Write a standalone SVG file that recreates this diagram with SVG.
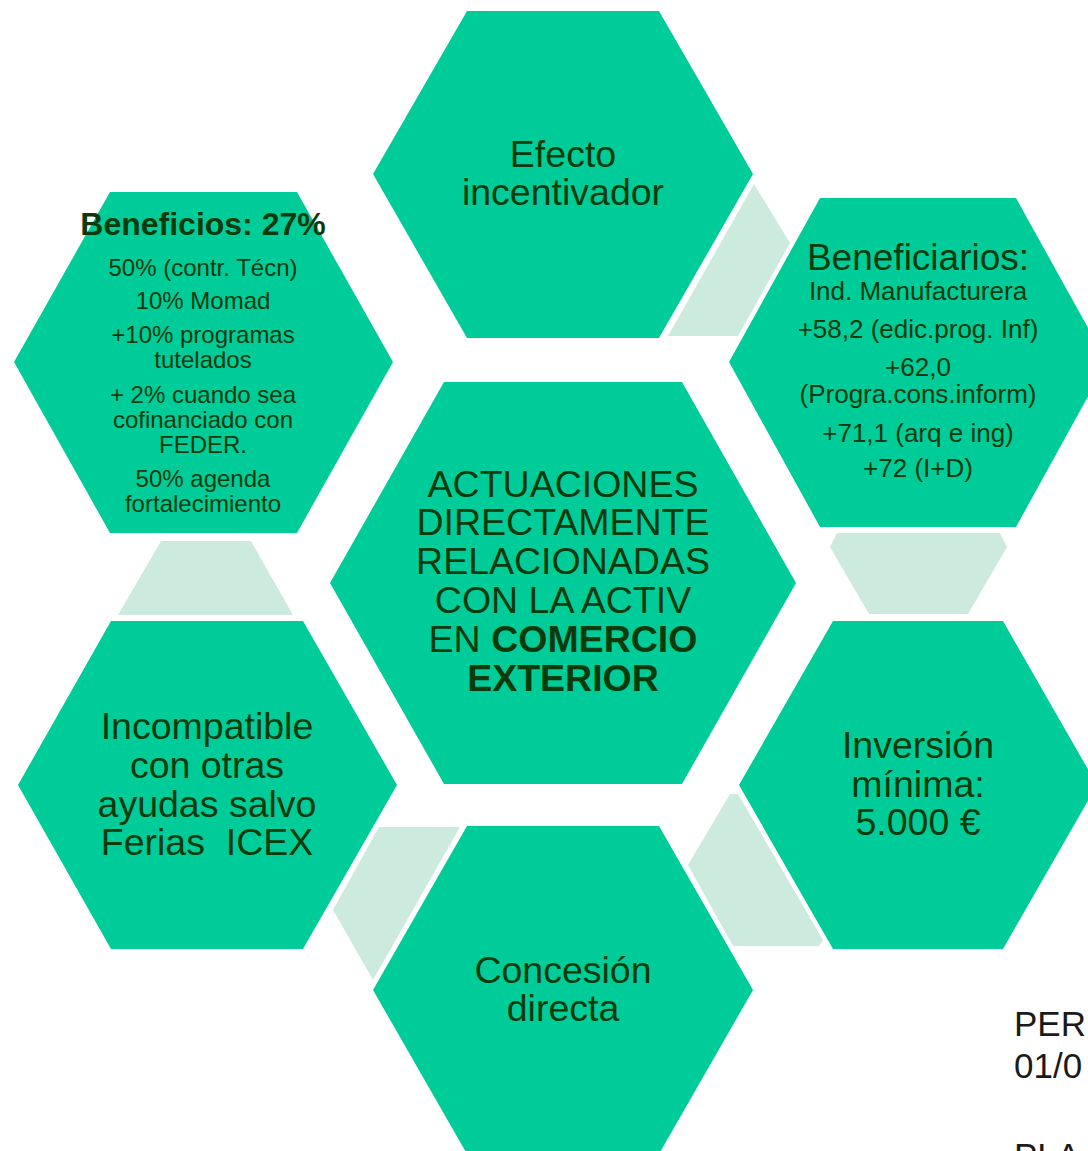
<svg xmlns="http://www.w3.org/2000/svg" width="1088" height="1151" viewBox="0 0 1088 1151">
<style>
.hex{fill:#00CC99}
.lnk{fill:#CCEBDE}
text{font-family:"Liberation Sans",Arial,sans-serif;fill:#0B3B0B;text-anchor:middle}
.big{font-size:37.5px}
.mid{font-size:24px}
.mid2{font-size:26px}
.b{font-weight:bold}
.side{fill:#1a1a1a;text-anchor:start;font-size:35px}
</style>
<rect width="1088" height="1151" fill="#ffffff"/>
<g id="connectors">
<polygon class="lnk" points="754,184 790,243 738,336 668,336"/>
<polygon class="lnk" points="837,533 1000,533 1007,547 968,614 869,614 830,547"/>
<polygon class="lnk" points="730,794 738,794 823,940 819,946 733,946 688,865"/>
<polygon class="lnk" points="379,827 460,827 373,980 333,910"/>
<polygon class="lnk" points="161,541 251,541 293,615 118,615"/>
</g>
<g id="node-efecto">
<polygon class="hex" points="467,11 659,11 753,174 659,338 467,338 373,174"/>
<text class="big" x="563" y="167">Efecto</text>
<text class="big" x="563" y="205">incentivador</text>
</g>
<g id="node-beneficios">
<polygon class="hex" points="110,192 297,192 393,362 297,533 110,533 14,362"/>
<text class="b" x="203" y="235" font-size="32px">Beneficios: 27%</text>
<text class="mid" x="203" y="276">50% (contr. Técn)</text>
<text class="mid" x="203" y="309">10% Momad</text>
<text class="mid" x="203" y="343">+10% programas</text>
<text class="mid" x="203" y="368">tutelados</text>
<text class="mid" x="203" y="403">+ 2% cuando sea</text>
<text class="mid" x="203" y="428">cofinanciado con</text>
<text class="mid" x="203" y="453">FEDER.</text>
<text class="mid" x="203" y="487">50% agenda</text>
<text class="mid" x="203" y="512">fortalecimiento</text>
</g>
<g id="node-beneficiarios">
<polygon class="hex" points="820,198 1016,198 1107,362 1016,527 820,527 729,362"/>
<text x="918" y="270" font-size="37px">Beneficiarios:</text>
<text class="mid2" x="918" y="300">Ind. Manufacturera</text>
<text class="mid2" x="918" y="338">+58,2 (edic.prog. Inf)</text>
<text class="mid2" x="918" y="376">+62,0</text>
<text class="mid2" x="918" y="403">(Progra.cons.inform)</text>
<text class="mid2" x="918" y="442">+71,1 (arq e ing)</text>
<text class="mid2" x="918" y="477">+72 (I+D)</text>
</g>
<g id="node-center">
<polygon class="hex" points="444,382 682,382 796,583 682,784 444,784 330,583"/>
<text class="big" x="563" y="497">ACTUACIONES</text>
<text class="big" x="563" y="535">DIRECTAMENTE</text>
<text class="big" x="563" y="574">RELACIONADAS</text>
<text class="big" x="563" y="613">CON LA ACTIV</text>
<text class="big" x="563" y="652">EN <tspan class="b">COMERCIO</tspan></text>
<text class="big b" x="563" y="691">EXTERIOR</text>
</g>
<g id="node-incompatible">
<polygon class="hex" points="111,621 303,621 397,785 303,949 111,949 18,785"/>
<text class="big" x="207" y="739">Incompatible</text>
<text class="big" x="207" y="778">con otras</text>
<text class="big" x="207" y="817">ayudas salvo</text>
<text class="big" x="207" y="855" xml:space="preserve">Ferias  ICEX</text>
</g>
<g id="node-inversion">
<polygon class="hex" points="833,621 1003,621 1097,785 1003,949 833,949 739,785"/>
<text class="big" x="918" y="758">Inversión</text>
<text class="big" x="918" y="797">mínima:</text>
<text class="big" x="918" y="835">5.000 €</text>
</g>
<g id="node-concesion">
<polygon class="hex" points="467,826 659,826 753,990 659,1154 467,1154 373,990"/>
<text class="big" x="563" y="983">Concesión</text>
<text class="big" x="563" y="1021">directa</text>
</g>
<g id="side-text">
<text class="side" x="1014" y="1036">PER</text>
<text class="side" x="1014" y="1078">01/0</text>
<text class="side" x="1014" y="1168">PLA</text>
</g>
</svg>
